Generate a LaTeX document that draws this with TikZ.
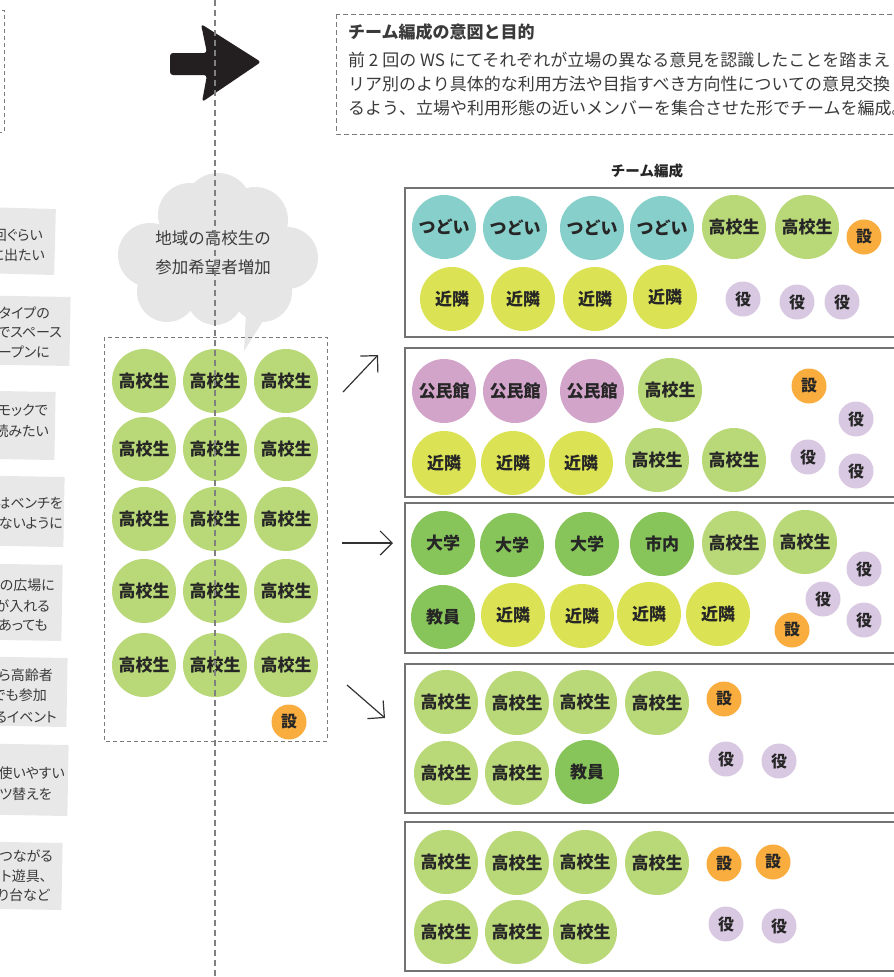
\documentclass[tikz,border=0pt]{standalone}
\usepackage{fontspec}
\setmainfont{Noto Sans CJK JP}
\newfontfamily\notefont{Noto Sans CJK JP}[RawFeature=+palt]
\usetikzlibrary{arrows.meta}
\definecolor{cHS}{HTML}{B9D877}
\definecolor{cSE}{HTML}{F9AD3F}
\definecolor{cYA}{HTML}{D9C8E2}
\definecolor{cTS}{HTML}{86CFCA}
\definecolor{cKI}{HTML}{DBE254}
\definecolor{cKO}{HTML}{D2A4CA}
\definecolor{cGR}{HTML}{87C45A}
\definecolor{cNote}{HTML}{E8E8E8}
\definecolor{cCloud}{HTML}{E6E6E6}
\definecolor{cTxt}{HTML}{3A3A3A}
\definecolor{cDash}{HTML}{7A7A7A}
\definecolor{cArrow}{HTML}{231F20}
\begin{document}
\begin{tikzpicture}[x=1pt,y=-1pt,
  mem/.style={circle,minimum size=64pt,inner sep=0pt,text=black!85,font=\bfseries\fontsize{17}{17}\selectfont},
  smem/.style={circle,minimum size=35pt,inner sep=0pt,text=black!85,font=\bfseries\fontsize{16}{16}\selectfont},
  hs/.style={mem,fill=cHS},
  ts/.style={mem,fill=cTS},
  ki/.style={mem,fill=cKI},
  ko/.style={mem,fill=cKO},
  gr/.style={mem,fill=cGR},
  se/.style={smem,fill=cSE},
  ya/.style={smem,fill=cYA},
  teambox/.style={draw=black!55,line width=1.4pt},
  dashbox/.style={draw=cDash,line width=1pt,dash pattern=on 4pt off 3pt},
  thinarrow/.style={draw=black!80,line width=1.2pt,-{Straight Barb[length=12pt,width=24pt,line width=1.2pt]}},
  notebg/.style={fill=cNote},
  notetxt/.style={anchor=east,inner sep=0pt,text=cTxt,font=\notefont\fontsize{14}{14}\selectfont},
  boxtxt/.style={anchor=west,inner sep=0pt,text=cTxt,font=\fontsize{17}{17}\selectfont}
]
\useasboundingbox (0,0) rectangle (894,977);
\begin{scope}
\clip (0,0) rectangle (894,977);

% top-left dashed box (cut off)
\draw[dashbox] (-20,10) rectangle (4,132);

% big arrow
\fill[cArrow,rounded corners=3pt] (170,53) -- (207,53) -- (201,24) -- (261,62) -- (202,102) -- (207,75) -- (170,75) -- cycle;

% top-right dashed text box
\draw[dashbox,dash pattern=on 5pt off 3pt] (336,14) rectangle (910,134);
\node[boxtxt,font=\bfseries\fontsize{17}{17}\selectfont] (title) at (348,32) {チーム編成の意図と目的};
\node[boxtxt] (l1) at (348,60) {前 2 回の WS にてそれぞれが立場の異なる意見を認識したことを踏まえ};
\node[boxtxt] (l2) at (348,84) {リア別のより具体的な利用方法や目指すべき方向性についての意見交換};
\node[boxtxt] (l3) at (348,108) {るよう、立場や利用形態の近いメンバーを集合させた形でチームを編成。};

% team label
\node[inner sep=0pt,text=black!85,font=\bfseries\fontsize{14.5}{14.5}\selectfont] (teamlabel) at (647,171) {チーム編成};

% sticky notes (cut off at the left)
\begin{scope}[rotate around={-1.5:(55,242)}]
\fill[notebg] (-20,209) rectangle (55,275);
\end{scope}
\node[notetxt] (n1a) at (43,235) {回ぐらい};
\node[notetxt] (n1b) at (45,255) {に出たい};
\begin{scope}[rotate around={-1:(70,331)}]
\fill[notebg] (-20,297) rectangle (70,366);
\end{scope}
\node[notetxt] (n2a) at (50,313) {タイプの};
\node[notetxt] (n2b) at (62,332) {りでスペース};
\node[notetxt] (n2c) at (50,352) {オープンに};
\begin{scope}[rotate around={-1:(55,426)}]
\fill[notebg] (-20,392) rectangle (55,460);
\end{scope}
\node[notetxt] (n3a) at (48,410) {ハンモックで};
\node[notetxt] (n3b) at (49,431) {読みたい};
\begin{scope}[rotate around={-1:(64,512)}]
\fill[notebg] (-20,477) rectangle (64,547);
\end{scope}
\node[notetxt] (n4a) at (63,503) {はベンチを};
\node[notetxt] (n4b) at (63,523) {ないように};
\begin{scope}[rotate around={-1:(62,603)}]
\fill[notebg] (-20,565) rectangle (62,641);
\end{scope}
\node[notetxt] (n5a) at (55,585) {いの広場に};
\node[notetxt] (n5b) at (50,606) {が入れる};
\node[notetxt] (n5c) at (48,625) {あっても};
\begin{scope}[rotate around={-1:(67,692)}]
\fill[notebg] (-20,658) rectangle (67,727);
\end{scope}
\node[notetxt] (n6a) at (53,675) {から高齢者};
\node[notetxt] (n6b) at (47,695) {でも参加};
\node[notetxt] (n6c) at (57,717) {るイベント};
\begin{scope}[rotate around={-1:(68,780)}]
\fill[notebg] (-20,745) rectangle (68,816);
\end{scope}
\node[notetxt] (n7a) at (65,773) {も使いやすい};
\node[notetxt] (n7b) at (52,794) {ムツ替えを};
\begin{scope}[rotate around={-1:(62,876)}]
\fill[notebg] (-20,843) rectangle (62,910);
\end{scope}
\node[notetxt] (n8a) at (53,856) {とつながる};
\node[notetxt] (n8b) at (47,876) {ット遊具、};
\node[notetxt] (n8c) at (50,895) {り台など};

% cloud
\begin{scope}
\fill[cCloud] (190,215) circle (32) (218,207) circle (34) (255,220) circle (33)
  (150,255) circle (32) (287,258) circle (31) (167,292) circle (30)
  (215,297) circle (28) (262,292) circle (30) (216,255) circle (52);
\fill[cCloud] (246,312) -- (244,351) -- (270,310) -- cycle;
\end{scope}
\node[inner sep=0pt,align=center,text=cTxt,font=\fontsize{16.5}{29}\selectfont] (cloudtxt) at (213,253) {地域の高校生の\\参加希望者増加};

% left group box
\draw[dashbox] (104,337) rectangle (327,741);
\foreach \cx/\cy [count=\i] in {144/381,215/381,286/381,144/449,215/449,286/449,144/519,215/519,286/519,144/591,215/591,286/591,144/665,215/665,286/665}
  \node[hs] (L\i) at (\cx,\cy) {高校生};
\node[se] (Lse) at (289,722) {設};

% arrows
\coordinate (a1s) at (343,392); \coordinate (a1e) at (378,355);
\coordinate (a2s) at (342,543); \coordinate (a2e) at (393,543);
\coordinate (a3s) at (347,685); \coordinate (a3e) at (385,718);
\draw[thinarrow] (a1s) -- (a1e);
\draw[thinarrow] (a2s) -- (a2e);
\draw[thinarrow] (a3s) -- (a3e);

% team boxes
\draw[teambox] (405,188) rectangle (910,337);
\draw[teambox] (405,348) rectangle (910,497);
\draw[teambox] (405,503) rectangle (910,653);
\draw[teambox] (405,664) rectangle (910,813);
\draw[teambox] (405,822) rectangle (910,971);

% team 1
\foreach \cx/\cy [count=\i] in {444/227,515/228,592/228,662/228} \node[ts] (A\i) at (\cx,\cy) {つどい};
\node[hs] (Ah1) at (734,227) {高校生};
\node[hs] (Ah2) at (807,227) {高校生};
\node[se] (As1) at (864,237) {設};
\foreach \cx/\cy [count=\i] in {452/299,523/299,595/299,665/297} \node[ki] (Ak\i) at (\cx,\cy) {近隣};
\foreach \cx/\cy [count=\i] in {743/299,797/302,842/302} \node[ya] (Ay\i) at (\cx,\cy) {役};

% team 2
\foreach \cx/\cy [count=\i] in {444/391,515/391,592/391} \node[ko] (B\i) at (\cx,\cy) {公民館};
\node[hs] (Bh1) at (670,390) {高校生};
\node[se] (Bs1) at (809,386) {設};
\node[ya] (By1) at (856,419) {役};
\foreach \cx/\cy [count=\i] in {444/463,513/463,581/463} \node[ki] (Bk\i) at (\cx,\cy) {近隣};
\node[hs] (Bh2) at (657,460) {高校生};
\node[hs] (Bh3) at (734,460) {高校生};
\node[ya] (By2) at (808,457) {役};
\node[ya] (By3) at (856,471) {役};

% team 3
\foreach \cx/\cy [count=\i] in {443/543,512/545,587/544} \node[gr] (C\i) at (\cx,\cy) {大学};
\node[gr] (Cc) at (662,544) {市内};
\node[hs] (Ch1) at (734,543) {高校生};
\node[hs] (Ch2) at (805,542) {高校生};
\node[ya] (Cy1) at (864,569) {役};
\node[gr] (Ce) at (443,617) {教員};
\foreach \cx/\cy [count=\i] in {513/615,582/616,649/614,718/614} \node[ki] (Ck\i) at (\cx,\cy) {近隣};
\node[ya] (Cy2) at (823,599) {役};
\node[ya] (Cy3) at (864,620) {役};
\node[se] (Cs1) at (792,630) {設};

% team 4
\foreach \cx/\cy [count=\i] in {446/702,517/703,585/702,657/703,446/773,517/773} \node[hs] (D\i) at (\cx,\cy) {高校生};
\node[gr] (De) at (587,772) {教員};
\node[se] (Ds1) at (724,699) {設};
\node[ya] (Dy1) at (726,759) {役};
\node[ya] (Dy2) at (779,761) {役};

% team 5
\foreach \cx/\cy [count=\i] in {446/862,517/863,585/862,657/863,446/932,517/932,585/932} \node[hs] (E\i) at (\cx,\cy) {高校生};
\node[se] (Es1) at (724,864) {設};
\node[se] (Es2) at (773,862) {設};
\node[ya] (Ey1) at (726,924) {役};
\node[ya] (Ey2) at (779,926) {役};

% vertical dashed divider (on top)
\draw[draw=black!50,line width=1.3pt,dash pattern=on 6pt off 4pt] (215,0) -- (215,977);
\end{scope}
\end{tikzpicture}
\end{document}
